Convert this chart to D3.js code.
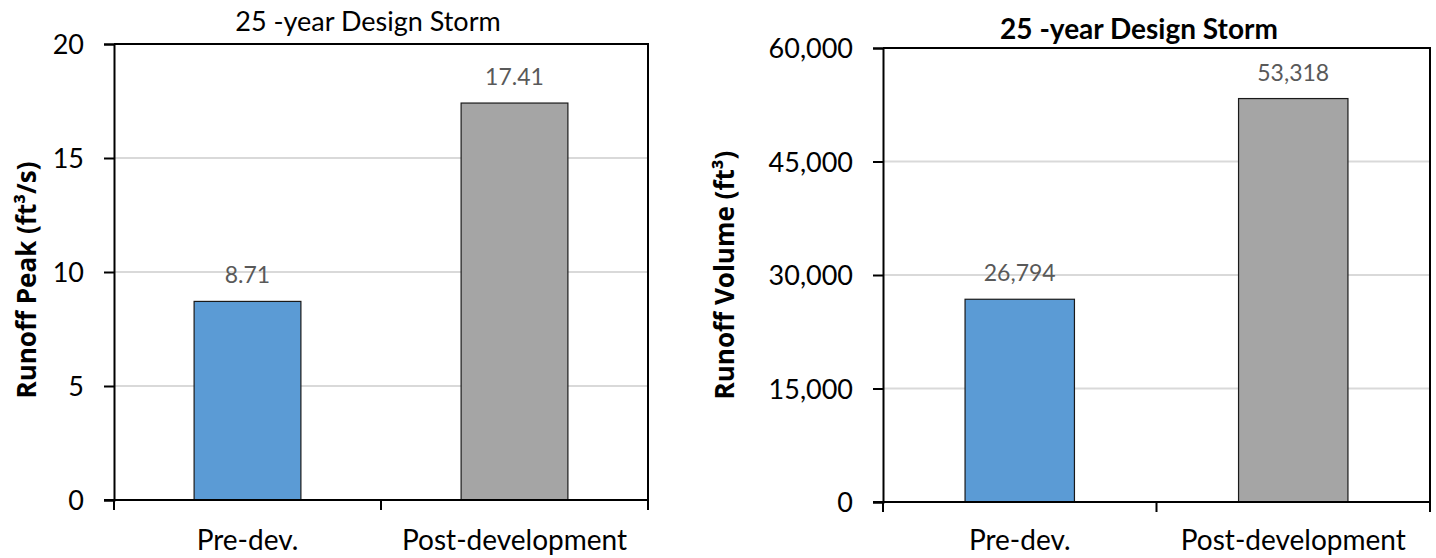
<!DOCTYPE html>
<html><head><meta charset="utf-8">
<script src="https://cdn.jsdelivr.net/npm/d3@7"></script>
<style>
html,body{margin:0;padding:0;background:#fff;}
svg{display:block;}
</style></head>
<body>
<svg id="chart" width="1436" height="558"></svg>
<script>
const categories = ["Pre-dev.", "Post-development"];
const peakValues = [8.71, 17.41];
const volumeValues = [26794, 53318];
const peakTicks = [0, 5, 10, 15, 20];
const volumeTicks = [0, 15000, 30000, 45000, 60000];
const barColors = ["#5B9BD5", "#A5A5A5"];
const titleText = "25 -year Design Storm";
const peakAxisTitle = "Runoff Peak (ft³/s)";
const volumeAxisTitle = "Runoff Volume (ft³)";

const svg = d3.select("#chart");
const FONT = "Lato, 'Noto Sans', sans-serif";

function panel(opt) {
  const g = svg.append("g");
  const x = d3.scaleBand().domain(categories).range([opt.x0, opt.x1]).paddingInner(0.6).paddingOuter(0.3);
  const y = d3.scaleLinear().domain([0, opt.max]).range([opt.y0, opt.y1]);

  // gridlines
  g.selectAll("line.grid").data(opt.ticks.filter(t => t > 0 && t < opt.max)).enter()
    .append("line").attr("class", "grid")
    .attr("x1", opt.x0).attr("x2", opt.x1)
    .attr("y1", d => y(d)).attr("y2", d => y(d))
    .attr("stroke", "#d9d9d9").attr("stroke-width", 2);

  // bars
  g.selectAll("rect.bar").data(opt.values).enter().append("rect")
    .attr("x", (d, i) => x(categories[i]))
    .attr("y", d => y(d))
    .attr("width", x.bandwidth())
    .attr("height", d => y(0) - y(d))
    .attr("fill", (d, i) => barColors[i])
    .attr("stroke", "#1a1a1a").attr("stroke-width", 1.2);

  // plot border (top & right)
  g.append("path")
    .attr("d", `M${opt.x0},${y(opt.max)}H${opt.x1}V${y(0)}`)
    .attr("fill", "none").attr("stroke", "#000").attr("stroke-width", 2);

  // y axis
  const yAxis = d3.axisLeft(y).tickValues(opt.ticks).tickSize(10).tickPadding(20).tickFormat(opt.fmt);
  const ya = g.append("g").attr("transform", `translate(${opt.x0},0)`).call(yAxis);
  ya.select(".domain").attr("stroke", "#000").attr("stroke-width", 2);
  ya.selectAll(".tick line").attr("stroke", "#000").attr("stroke-width", 2);
  ya.selectAll(".tick text").attr("font-family", FONT).attr("font-size", 27).attr("fill", "#000").attr("dy", "0.36em");

  // x axis with boundary ticks
  const xa = g.append("g").attr("transform", `translate(0,${y(0)})`);
  xa.append("line").attr("x1", opt.x0 - 10).attr("x2", opt.x1).attr("y1", 0).attr("y2", 0)
    .attr("stroke", "#000").attr("stroke-width", 2);
  const mid = (x(categories[0]) + x.bandwidth() + x(categories[1])) / 2;
  [opt.x0, mid, opt.x1].forEach(bx => {
    xa.append("line").attr("x1", bx).attr("x2", bx).attr("y1", 0).attr("y2", 10)
      .attr("stroke", "#000").attr("stroke-width", 2);
  });
  xa.selectAll("text.cat").data(categories).enter().append("text")
    .attr("x", d => x(d) + x.bandwidth() / 2).attr("y", opt.catY)
    .attr("text-anchor", "middle").attr("font-family", FONT).attr("font-size", 28).attr("fill", "#000")
    .text(d => d);

  // data labels
  g.selectAll("text.val").data(opt.values).enter().append("text")
    .attr("x", (d, i) => x(categories[i]) + x.bandwidth() / 2)
    .attr("y", d => y(d) - 18)
    .attr("text-anchor", "middle").attr("font-family", FONT).attr("font-size", 23).attr("fill", "#595959")
    .text(d => opt.lfmt(d));

  // title
  g.append("text").attr("x", opt.tx).attr("y", opt.ty).attr("text-anchor", "middle")
    .attr("font-family", FONT).attr("font-size", opt.tsize).attr("font-weight", opt.tbold ? 700 : 400)
    .attr("fill", "#000").text(titleText);

  // axis title
  g.append("text").attr("transform", `translate(${opt.ax},${opt.ay}) rotate(-90)`)
    .attr("text-anchor", "middle").attr("font-family", "'Open Sans', sans-serif")
    .attr("font-size", 26).attr("font-weight", 700).attr("fill", "#000").text(opt.atitle);
}

panel({x0: 114, x1: 648, y0: 500, y1: 44, max: 20, ticks: peakTicks, values: peakValues,
  fmt: d3.format("d"), lfmt: d3.format(".2f"), tx: 368, ty: 31, tsize: 27, tbold: false,
  ax: 36, ay: 280, catY: 50, atitle: peakAxisTitle});
panel({x0: 883, x1: 1430, y0: 502, y1: 48, max: 60000, ticks: volumeTicks, values: volumeValues,
  fmt: d3.format(","), lfmt: d3.format(","), tx: 1139, ty: 39, tsize: 28, tbold: true,
  ax: 734, ay: 275, catY: 48, atitle: volumeAxisTitle});
</script>
</body></html>
